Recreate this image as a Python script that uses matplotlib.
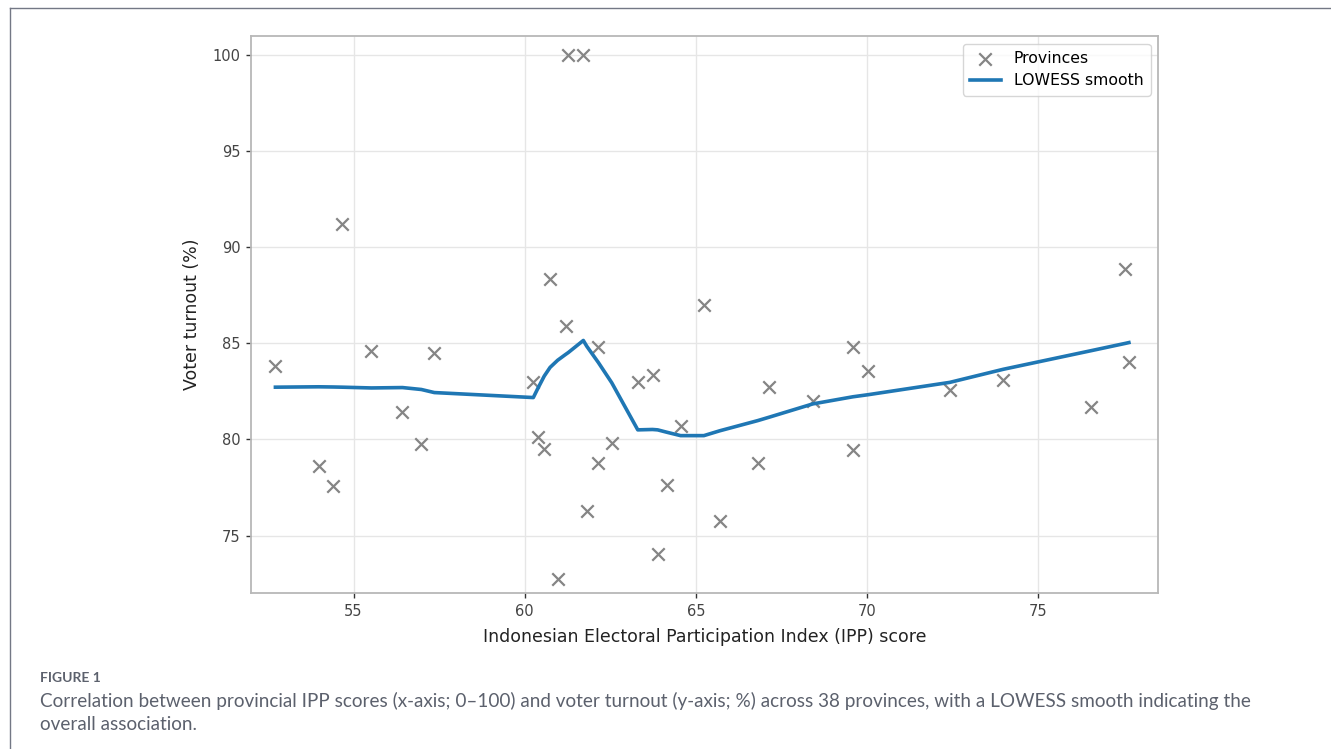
import numpy as np
import matplotlib.pyplot as plt
from matplotlib.lines import Line2D

plt.rcParams['font.family'] = ['DejaVu Sans']

# Pontos por província (IPP, participação)
ipp = [52.72, 53.98, 54.40, 54.67, 55.52, 56.43, 56.98, 57.36, 60.25, 60.38,
       60.57, 60.74, 60.96, 61.19, 61.27, 61.71, 61.81, 62.13, 62.15, 62.54,
       63.30, 63.73, 63.88, 64.14, 64.55, 65.23, 65.69, 66.80, 67.12, 68.41,
       69.58, 69.58, 70.03, 72.41, 73.97, 76.54, 77.54, 77.64]
turnout = [83.81, 78.62, 77.56, 91.23, 84.58, 81.42, 79.78, 84.48, 82.98, 80.12,
           79.53, 88.37, 72.73, 85.92, 100.0, 100.0, 76.28, 84.83, 78.77, 79.81,
           83.01, 83.36, 74.02, 77.61, 80.69, 86.99, 75.74, 78.77, 82.71, 82.02,
           84.83, 79.43, 83.58, 82.55, 83.11, 81.71, 88.87, 84.05]

# Curva LOWESS
lowess_x = [52.72, 53.98, 54.40, 54.67, 55.52, 56.43, 56.98, 57.36, 60.25, 60.38,
            60.57, 60.74, 60.96, 61.19, 61.27, 61.71, 61.81, 62.13, 62.15, 62.54,
            63.30, 63.73, 63.88, 64.14, 64.55, 65.23, 65.69, 66.80, 67.12, 68.41,
            69.58, 70.03, 72.41, 73.97, 76.54, 77.54, 77.64]
lowess_y = [82.72, 82.74, 82.73, 82.72, 82.68, 82.70, 82.60, 82.44, 82.18, 82.65,
            83.30, 83.75, 84.12, 84.42, 84.52, 85.15, 84.85, 84.05, 84.00, 82.95,
            80.50, 80.52, 80.50, 80.38, 80.20, 80.20, 80.45, 80.98, 81.15, 81.85,
            82.22, 82.33, 82.97, 83.65, 84.62, 85.00, 85.04]

xticks = [55, 60, 65, 70, 75]
yticks = [75, 80, 85, 90, 95, 100]

fig = plt.figure(figsize=(13.31, 7.49), dpi=100)
ax = fig.add_axes([0.1884, 0.2079, 0.6819, 0.7444])

ax.scatter(ipp, turnout, marker='x', s=80, color='#858585', linewidths=1.6,
           label='Provinces', zorder=3)
ax.plot(lowess_x, lowess_y, color='#1f77b4', lw=2.6, label='LOWESS smooth', zorder=4)

ax.set_xlim(52.0, 78.5)
ax.set_ylim(72.0, 101.0)
ax.set_xticks(xticks)
ax.set_yticks(yticks)
ax.grid(True, color='#e6e6e6', lw=1.0, zorder=0)
ax.set_axisbelow(True)
for s in ax.spines.values():
    s.set_color('#b8b8b8')
    s.set_linewidth(1.3)
ax.tick_params(labelsize=10.5, colors='#333333', labelcolor='#444444',
               length=3.5, width=1.0, pad=4)

ax.set_xlabel('Indonesian Electoral Participation Index (IPP) score', fontsize=12.5,
              labelpad=7, color='#222222')
ax.set_ylabel('Voter turnout (%)', fontsize=12.5, labelpad=8, color='#222222')

leg = ax.legend(loc='upper right', fontsize=11.3, frameon=True, fancybox=True,
                edgecolor='#cccccc', borderpad=0.45)

# Moldura da página (só topo e esquerda aparecem)
fig.add_artist(Line2D([10/1331, 10/1331], [0, 1 - 8/749], color='#737885', lw=1.0))
fig.add_artist(Line2D([10/1331, 1], [1 - 8/749, 1 - 8/749], color='#737885', lw=1.0))

cap = '#5c616d'
fig.text(40/1331, 1 - 678/749, 'FIGURE 1', fontsize=10, family='Lato', weight='bold',
         color=cap, va='center')
fig.text(40/1331, 1 - 701/749,
         'Correlation between provincial IPP scores (x-axis; 0\u2013100) and voter turnout (y-axis; %) across 38 provinces, with a LOWESS smooth indicating the',
         fontsize=13.6, family='Lato', color=cap, va='center')
fig.text(40/1331, 1 - 724/749, 'overall association.',
         fontsize=13.6, family='Lato', color=cap, va='center')

fig.savefig('out.png', dpi=100)
